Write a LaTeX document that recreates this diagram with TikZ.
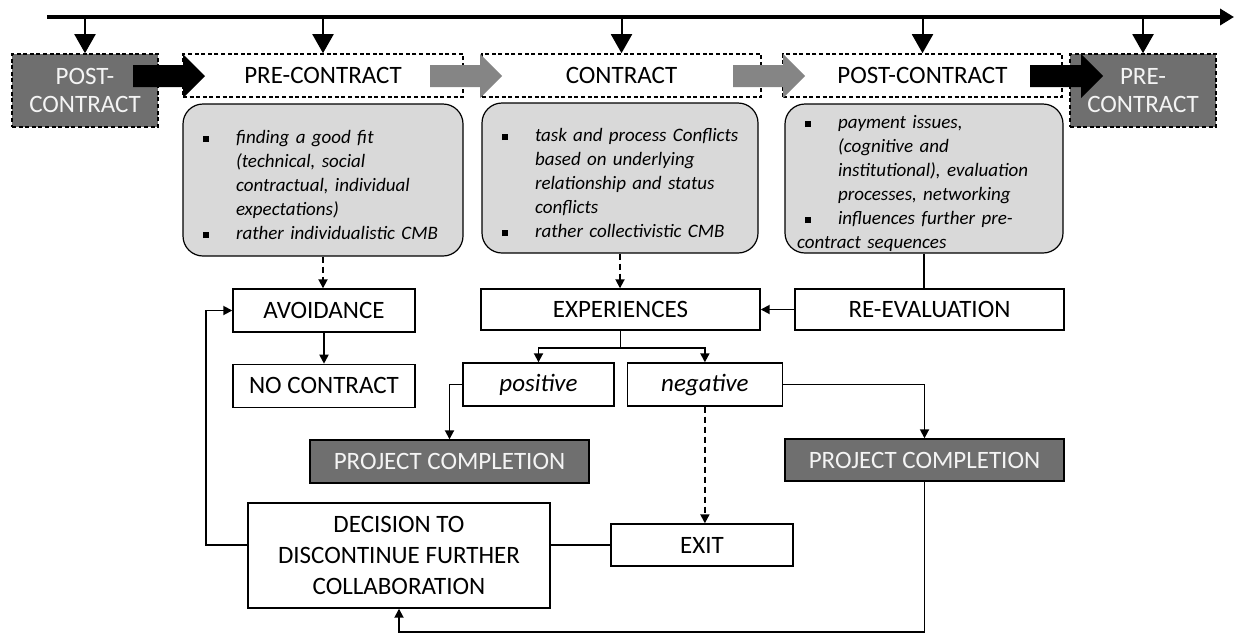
\documentclass[tikz,border=0pt]{standalone}
\usepackage{fontspec}
\setmainfont{Carlito}
\usepackage{tikz}
\usetikzlibrary{arrows.meta,positioning,calc}
\definecolor{clDark}{HTML}{6F6F6F}
\definecolor{clArrow}{HTML}{858585}
\definecolor{clNote}{HTML}{D9D9D9}
\definecolor{clLight}{HTML}{F4F4F4}
% bullet line with hanging indent
\newcommand{\nl}{\hfil\break}
\newcommand{\bitem}[1]{\par\noindent\hyphenpenalty=10000\relax
  \hangindent=20.5pt\relax\hangafter=1\relax
  \makebox[20.5pt][l]{\hspace{3.75pt}\rule[0.9pt]{3pt}{3pt}}\textit{#1}}
% fat arrow between the phase boxes
\newcommand{\bigarrow}[3]{\fill[#1] (#2,65) -- ({#3-22},65) -- ({#3-22},54) -- (#3,76)
  -- ({#3-22},98) -- ({#3-22},87) -- (#2,87) -- cycle;}
\tikzset{
  phase/.style={rectangle, draw, dash pattern=on 2pt off 1.3pt, line width=0.8pt,
                minimum width=140pt, minimum height=21.5pt, inner sep=0pt,
                align=center, font=\fontsize{12.5}{14}\selectfont},
  phasedark/.style={phase, fill=clDark, text=clLight, minimum width=73pt, minimum height=36.5pt},
  note/.style={rectangle, rounded corners=10pt, draw, line width=0.6pt, fill=clNote,
               align=left, text width=128pt, inner xsep=6pt, inner ysep=0pt,
               font=\fontsize{9.5}{12}\selectfont},
  stage/.style={rectangle, draw, line width=0.7pt, inner sep=0pt, minimum height=21.5pt,
                align=center, font=\fontsize{12.5}{15.3}\selectfont},
  outcome/.style={stage, fill=clDark, text=clLight, minimum width=139.5pt},
  flow/.style={-{Triangle[length=4.5pt,width=4.5pt]}, line width=0.9pt},
  dflow/.style={flow, dash pattern=on 3pt off 2pt},
  link/.style={line width=0.9pt},
  tick/.style={-{Triangle[length=9.5pt,width=10.5pt]}, line width=1pt},
  timeline/.style={-{Triangle[length=7pt,width=8pt]}, line width=2pt},
}
\begin{document}
\begin{tikzpicture}[x=0.5pt, y=-0.5pt]
  \useasboundingbox (0,0) rectangle (1235,633);
  % phases
  \node[phasedark] (postL) at (85,90.5) {POST-\\CONTRACT};
  \node[phase] (preC) at (323,75.5) {PRE-CONTRACT};
  \node[phase, minimum width=139.5pt] (con) at (621.5,75.5) {CONTRACT};
  \node[phase, minimum width=139.5pt] (postC) at (922.5,75.5) {POST-CONTRACT};
  \node[phasedark] (preR) at (1143,90.5) {PRE-\\CONTRACT};
  % timeline
  \coordinate (t0) at (47,17);
  \coordinate (t1) at (1234,17);
  \draw[timeline] (t0) -- (t1);
  \foreach \n in {postL,preC,con,postC,preR}
    \draw[tick] (\n.north |- t0) -- (\n.north);
  \bigarrow{black}{133}{205}
  \bigarrow{clArrow}{430}{502}
  \bigarrow{clArrow}{733}{805}
  \bigarrow{black}{1030}{1103}
  % notes
  \node[note, minimum height=76pt] (desc1) at (323,180)
    {\bitem{finding a good fit\nl(technical, social\nl contractual, individual\nl expectations)}%
     \bitem{rather individualistic CMB}\par\vspace{3pt}};
  \node[note, minimum height=75pt, text width=126pt] (desc2) at (620,178)
    {\bitem{task and process Conflicts\nl based on underlying\nl relationship and status\nl conflicts}%
     \bitem{rather collectivistic CMB}\par\vspace{3pt}};
  \node[note, minimum height=74.5pt, text width=127pt] (desc3) at (924,178.5)
    {\bitem{payment issues,\nl(cognitive and\nl institutional), evaluation\nl processes, networking}%
     \bitem{influences further pre-\nl contract sequences}};
  % outcomes
  \node[stage, minimum width=91pt] (avoid) at (324,310.5) {AVOIDANCE};
  \node[stage, minimum width=91pt, below=15.5pt of avoid] (nocon) {NO CONTRACT};
  \node[stage, minimum width=139.5pt, minimum height=20.5pt] (exper) at (620.5,309.5) {EXPERIENCES};
  \node[stage, minimum width=134.5pt, minimum height=20.5pt] (reeval) at (929.5,309.5) {RE-EVALUATION};
  \node[stage, minimum width=75.5pt] (pos) at (538.5,384.5) {\textit{positive}};
  \node[stage, minimum width=77.5pt, right=6pt of pos] (neg) {\textit{negative}};
  \node[outcome] (pc1) at (449.5,461.5) {PROJECT COMPLETION};
  \node[outcome, minimum height=21pt] (pc2) at (924.5,460) {PROJECT COMPLETION};
  \node[stage, minimum width=91pt, minimum height=21pt] (exitn) at (702,545) {EXIT};
  \node[stage, minimum width=151pt, minimum height=52.5pt] (decide) at (399,555.5)
    {DECISION TO\\DISCONTINUE FURTHER\\COLLABORATION};
  % connectors
  \draw[dflow] (desc1.south) -- (desc1.south |- avoid.north);
  \draw[dflow] (desc2.south) -- (desc2.south |- exper.north);
  \draw[link] (desc3.south) -- (desc3.south |- reeval.north);
  \draw[flow] (reeval) -- (exper);
  \draw[flow] (avoid) -- (nocon);
  \draw[flow] (exper.south) -- ++(0,17) -| (pos.north);
  \draw[flow] (exper.south) -- ++(0,17) -| (neg.north);
  \draw[flow] (pos.west) -| (pc1.north);
  \draw[flow] (neg.east) -| (pc2.north);
  \draw[dflow] (neg.south) -- (neg.south |- exitn.north);
  \draw[link] (exitn.west) -- (exitn.west -| decide.east);
  \draw[flow] (decide.west |- exitn.west) -- ++(-41,0) |- (avoid.west);
  \draw[flow] (pc2.south) -- ++(0,150) -| (decide.south);
\end{tikzpicture}
\end{document}
